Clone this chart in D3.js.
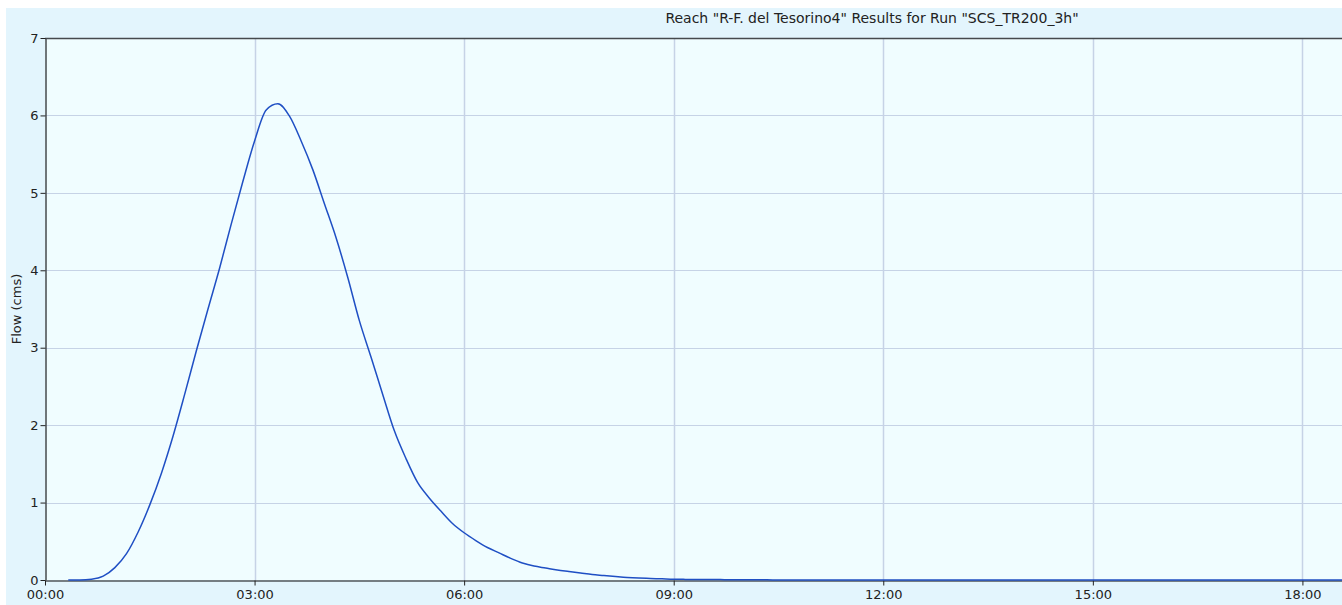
<!DOCTYPE html>
<html>
<head>
<meta charset="utf-8">
<script src="https://cdn.jsdelivr.net/npm/d3@7"></script>
<style>
  html, body { margin: 0; padding: 0; background: #fff; }
  svg { display: block; font-family: "DejaVu Sans", sans-serif; }
</style>
</head>
<body>
<div id="chart"></div>
<script>
// Outflow hydrograph, 10-minute steps (time in minutes from 00:00)
const startMin = 20;
const stepMin = 10;
const flowValues = [
  0, 0, 0.01, 0.05, 0.16, 0.34, 0.62, 0.97, 1.38, 1.86,
  2.40, 2.96, 3.50, 4.03, 4.60, 5.15, 5.67, 6.07, 6.15, 5.99,
  5.67, 5.30, 4.86, 4.42, 3.91, 3.35, 2.88, 2.40, 1.93, 1.57,
  1.26, 1.06, 0.89, 0.73, 0.61, 0.51, 0.42, 0.35, 0.28, 0.22,
  0.18, 0.155, 0.13, 0.11, 0.09, 0.07, 0.058, 0.045, 0.033, 0.025,
  0.02, 0.015, 0.01, 0.008, 0.007, 0.006, 0.005, 0.004, 0.004, 0.003,
  0.003
];
const endMin = 1114;           // run end, flow stays at 0 after recession
const xTicks = [0, 180, 360, 540, 720, 900, 1080];
const yTicks = [0, 1, 2, 3, 4, 5, 6, 7];
const title = 'Reach "R-F. del Tesorino4" Results for Run "SCS_TR200_3h"';
const yLabel = "Flow (cms)";

const width = 1342, height = 605;
const margin = {top: 38, right: 0, bottom: 25, left: 45};

const series = flowValues.map((v, i) => ({t: startMin + i * stepMin, v: v}));
series.push({t: series[series.length - 1].t + stepMin, v: 0});
series.push({t: endMin, v: 0});

const svg = d3.select("#chart").append("svg")
    .attr("width", width)
    .attr("height", height);

// outer panel
svg.append("rect")
    .attr("x", 6).attr("y", 8)
    .attr("width", width - 6).attr("height", height - 8)
    .attr("fill", "#e3f5fd");

const x = d3.scaleLinear()
    .domain([0, endMin])
    .range([margin.left, width - margin.right]);
const y = d3.scaleLinear()
    .domain([0, 7])
    .range([height - margin.bottom, margin.top]);

// plot area
svg.append("rect")
    .attr("x", margin.left).attr("y", margin.top)
    .attr("width", width - margin.right - margin.left)
    .attr("height", y(0) - margin.top)
    .attr("fill", "#f0fdff");

// grid
svg.append("g")
    .attr("stroke", "#c6d3e6")
    .attr("stroke-width", 1)
  .selectAll("line")
  .data(yTicks.slice(1, -1))
  .join("line")
    .attr("x1", margin.left).attr("x2", width)
    .attr("y1", d => Math.round(y(d)) + 0.5)
    .attr("y2", d => Math.round(y(d)) + 0.5);

svg.append("g")
    .attr("stroke", "#c6d3e6")
    .attr("stroke-width", 1.5)
  .selectAll("line")
  .data(xTicks.slice(1))
  .join("line")
    .attr("x1", d => Math.round(x(d)) + 0.5)
    .attr("x2", d => Math.round(x(d)) + 0.5)
    .attr("y1", margin.top).attr("y2", y(0));

// top border
svg.append("line")
    .attr("x1", margin.left).attr("x2", width)
    .attr("y1", margin.top + 0.5).attr("y2", margin.top + 0.5)
    .attr("stroke", "#45494d").attr("stroke-width", 1.5);

const fmt = m => d3.format("02d")(Math.floor(m / 60)) + ":" + d3.format("02d")(m % 60);

// axes
const xAxis = svg.append("g")
    .attr("transform", `translate(0,${Math.round(y(0)) + 0.5})`)
    .call(d3.axisBottom(x).tickValues(xTicks).tickFormat(fmt).tickSize(5).tickSizeOuter(0));
xAxis.select(".domain").attr("stroke", "#505558").attr("stroke-width", 1.5);
xAxis.selectAll(".tick line").attr("stroke", "#222");
xAxis.selectAll("text").attr("font-size", 13).attr("font-family", "DejaVu Sans").attr("fill", "#222").attr("dy", "0.8em");

const yAxis = svg.append("g")
    .attr("transform", `translate(${margin.left + 0.5},0)`)
    .call(d3.axisLeft(y).tickValues(yTicks).tickFormat(d3.format("d")).tickSize(5).tickSizeOuter(0));
yAxis.select(".domain").attr("stroke", "#45494d").attr("stroke-width", 1.5);
yAxis.selectAll(".tick line").attr("stroke", "#222");
yAxis.selectAll("text").attr("font-size", 13).attr("font-family", "DejaVu Sans").attr("fill", "#222").attr("x", -7);

// hydrograph
const line = d3.line()
    .x(d => x(d.t))
    .y(d => y(d.v))
    .curve(d3.curveMonotoneX);

svg.append("path")
    .datum(series)
    .attr("fill", "none")
    .attr("stroke", "#1f4fc4")
    .attr("stroke-width", 1.5)
    .attr("d", line);

// title
svg.append("text")
    .attr("x", 872).attr("y", 23)
    .attr("text-anchor", "middle")
    .attr("font-size", 14)
    .attr("fill", "#222")
    .text(title);

// y label
svg.append("text")
    .attr("transform", `translate(21,${(margin.top + y(0)) / 2}) rotate(-90)`)
    .attr("text-anchor", "middle")
    .attr("font-size", 13)
    .attr("fill", "#222")
    .text(yLabel);
</script>
</body>
</html>
